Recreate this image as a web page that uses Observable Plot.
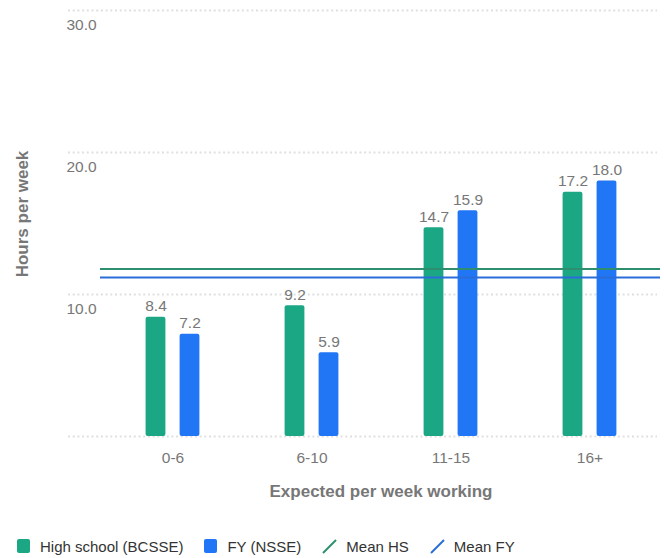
<!DOCTYPE html>
<html>
<head>
<meta charset="utf-8">
<script src="https://cdn.jsdelivr.net/npm/d3@7"></script>
<script src="https://cdn.jsdelivr.net/npm/@observablehq/plot@0.6"></script>
<style>
  html, body { margin: 0; padding: 0; background: #fff; }
  body { width: 664px; height: 558px; overflow: hidden; font-family: "Liberation Sans", Arial, sans-serif; }
  #legend { display: flex; align-items: center; height: 20px; margin-top: 16px; padding-left: 17px; font-size: 15px; color: #333; }
  .item { display: flex; align-items: center; margin-right: 21px; }
  .sw { width: 13px; height: 14px; border-radius: 2px; margin-right: 10px; }
  .ln { margin-right: 9px; }
</style>
</head>
<body>
<div id="chart"></div>
<div id="legend"></div>
<script>
const categories = ["0-6", "6-10", "11-15", "16+"];
const hsValues = [8.4, 9.2, 14.7, 17.2];
const fyValues = [7.2, 5.9, 15.9, 18.0];
const meanHS = 11.8;
const meanFY = 11.2;
const yTicks = [10, 20, 30];
const gridValues = [0, 10, 20, 30];
const seriesNames = ["High school (BCSSE)", "FY (NSSE)", "Mean HS", "Mean FY"];

const colHS = "#1ba784";
const colFY = "#2176f5";
const colMeanHS = "#2e8f70";
const colMeanFY = "#2a6dd9";
const grey = "#777";

const hsData = categories.map((c, i) => ({cat: c, v: hsValues[i]}));
const fyData = categories.map((c, i) => ({cat: c, v: fyValues[i]}));

const barInset = 59.6;

const chart = Plot.plot({
  width: 664,
  height: 520,
  marginLeft: 102,
  marginRight: 5,
  marginTop: 10,
  marginBottom: 84,
  style: {fontFamily: "Liberation Sans, Arial, sans-serif", background: "#fff"},
  x: {domain: categories, padding: 0, axis: null},
  y: {domain: [0, 30], axis: null},
  marks: [
    Plot.ruleY(gridValues, {stroke: "#e0e0e0", strokeWidth: 2, strokeDasharray: "2,2.7", insetLeft: -34, insetRight: 2}),
    Plot.text(yTicks, {y: d => d, text: d => d.toFixed(1), frameAnchor: "left", dx: -36, dy: 15, textAnchor: "start", fill: grey, fontSize: 15.5}),
    Plot.barY(hsData, {x: "cat", y: "v", fill: colHS, dx: -17, insetLeft: barInset, insetRight: barInset, rx: 2}),
    Plot.barY(fyData, {x: "cat", y: "v", fill: colFY, dx: 17, insetLeft: barInset, insetRight: barInset, rx: 2}),
    Plot.text(hsData, {x: "cat", y: "v", text: d => d.v.toFixed(1), dx: -17, dy: -11, fill: grey, fontSize: 15.5}),
    Plot.text(fyData, {x: "cat", y: "v", text: d => d.v.toFixed(1), dx: 17, dy: -11, fill: grey, fontSize: 15.5}),
    Plot.ruleY([meanHS], {stroke: colMeanHS, strokeWidth: 2, insetLeft: -2, insetRight: -1}),
    Plot.ruleY([meanFY], {stroke: colMeanFY, strokeWidth: 2, insetLeft: -2, insetRight: -1}),
    Plot.text(categories, {x: d => d, text: d => d, frameAnchor: "bottom", dy: 26.5, fill: grey, fontSize: 15.5}),
    Plot.text(["Expected per week working"], {frameAnchor: "bottom", dy: 60.5, fill: grey, fontSize: 17, fontWeight: "bold"}),
    Plot.text(["Hours per week"], {frameAnchor: "left", textAnchor: "middle", rotate: -90, dx: -79.5, dy: -9.5, fill: grey, fontSize: 17, fontWeight: "bold"})
  ]
});
document.getElementById("chart").appendChild(chart);

const legend = document.getElementById("legend");
const colors = [colHS, colFY, colMeanHS, colMeanFY];
seriesNames.forEach((name, i) => {
  const item = document.createElement("div");
  item.className = "item";
  let mark;
  if (i < 2) {
    mark = `<div class="sw" style="background:${colors[i]}"></div>`;
  } else {
    mark = `<svg class="ln" width="15" height="15"><line x1="1" y1="14" x2="14" y2="1" stroke="${colors[i]}" stroke-width="2"/></svg>`;
  }
  item.innerHTML = mark + `<span>${name}</span>`;
  legend.appendChild(item);
});
</script>
</body>
</html>
